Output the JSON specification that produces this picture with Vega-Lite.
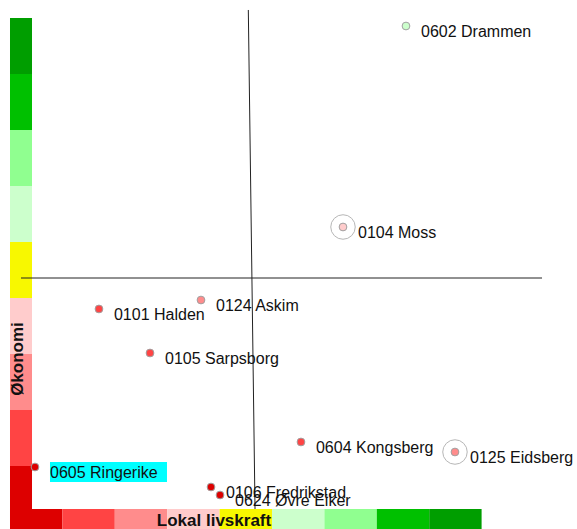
{
  "$schema": "https://vega.github.io/schema/vega-lite/v6.json",
  "width": 577,
  "height": 529,
  "autosize": {"type": "none"},
  "padding": 0,
  "background": "white",
  "view": {"stroke": null},
  "config": {"font": "Liberation Sans"},
  "datasets": {
    "bands": [
      {"band": 0, "lo": 0, "hi": 1},
      {"band": 1, "lo": 1, "hi": 2},
      {"band": 2, "lo": 2, "hi": 3},
      {"band": 3, "lo": 3, "hi": 4},
      {"band": 4, "lo": 4, "hi": 5},
      {"band": 5, "lo": 5, "hi": 6},
      {"band": 6, "lo": 6, "hi": 7},
      {"band": 7, "lo": 7, "hi": 8},
      {"band": 8, "lo": 8, "hi": 9}
    ],
    "lines": [
      {"x": 4.548, "y": 9.143, "x2": 4.676, "y2": 0.232},
      {"x": 0.21, "y": 4.357, "x2": 10.153, "y2": 4.357}
    ],
    "kommuner": [
      {"navn": "0602 Drammen", "livskraft": 7.557, "okonomi": 8.857, "band": 5, "ring": false, "markert": false},
      {"navn": "0104 Moss", "livskraft": 6.355, "okonomi": 5.268, "band": 3, "ring": true, "markert": false},
      {"navn": "0124 Askim", "livskraft": 3.645, "okonomi": 3.964, "band": 2, "ring": false, "markert": false},
      {"navn": "0101 Halden", "livskraft": 1.698, "okonomi": 3.804, "band": 1, "ring": false, "markert": false},
      {"navn": "0105 Sarpsborg", "livskraft": 2.672, "okonomi": 3.018, "band": 1, "ring": false, "markert": false},
      {"navn": "0604 Kongsberg", "livskraft": 5.553, "okonomi": 1.429, "band": 1, "ring": false, "markert": false},
      {"navn": "0125 Eidsberg", "livskraft": 8.492, "okonomi": 1.25, "band": 2, "ring": true, "markert": false},
      {"navn": "0605 Ringerike", "livskraft": 0.477, "okonomi": 0.982, "band": 0, "ring": false, "markert": true},
      {"navn": "0106 Fredrikstad", "livskraft": 3.836, "okonomi": 0.625, "band": 0, "ring": false, "markert": false},
      {"navn": "0624 Øvre Eiker", "livskraft": 4.008, "okonomi": 0.482, "band": 0, "ring": false, "markert": false}
    ],
    "titler": [
      {"tekst": "Lokal livskraft", "x": 3.893, "y": 0.02, "akse": "x"},
      {"tekst": "Økonomi", "x": 0.15, "y": 2.91, "akse": "y"}
    ]
  },
  "encoding": {
    "x": {"type": "quantitative", "scale": {"domain": [-0.1908, 10.8206], "nice": false, "zero": false}, "axis": null},
    "y": {"type": "quantitative", "scale": {"domain": [-0.125, 9.3214], "nice": false, "zero": false}, "axis": null}
  },
  "layer": [
    {
      "data": {"name": "bands"},
      "mark": {"type": "rect"},
      "encoding": {
        "x": {"field": "lo", "type": "quantitative"},
        "x2": {"field": "hi"},
        "y": {"datum": -0.2},
        "y2": {"datum": 0.232},
        "color": {"field": "band", "type": "ordinal", "legend": null,
          "scale": {"domain": [0,1,2,3,4,5,6,7,8], "range": ["#dd0000", "#ff4444", "#ff8c8c", "#ffcccc", "#f8f800", "#ccffcc", "#90ff90", "#00c000", "#009e00"]}}
      }
    },
    {
      "data": {"name": "bands"},
      "mark": {"type": "rect"},
      "encoding": {
        "y": {"field": "lo", "type": "quantitative"},
        "y2": {"field": "hi"},
        "x": {"datum": 0},
        "x2": {"datum": 0.42},
        "color": {"field": "band", "type": "ordinal", "legend": null}
      }
    },
    {
      "data": {"name": "lines"},
      "mark": {"type": "rule", "color": "#222222", "strokeWidth": 1},
      "encoding": {
        "x": {"field": "x", "type": "quantitative"},
        "y": {"field": "y", "type": "quantitative"},
        "x2": {"field": "x2"},
        "y2": {"field": "y2"}
      }
    },
    {
      "data": {"name": "kommuner"},
      "transform": [{"filter": "datum.ring"}],
      "mark": {"type": "point", "shape": "circle", "filled": false, "size": 600, "stroke": "#999999", "strokeWidth": 1},
      "encoding": {
        "x": {"field": "livskraft", "type": "quantitative"},
        "y": {"field": "okonomi", "type": "quantitative"}
      }
    },
    {
      "data": {"name": "kommuner"},
      "transform": [{"filter": "datum.markert"}],
      "mark": {"type": "rect", "color": "#00ffff", "width": 117, "height": 20, "xOffset": 73.5, "yOffset": 5},
      "encoding": {
        "x": {"field": "livskraft", "type": "quantitative"},
        "y": {"field": "okonomi", "type": "quantitative"}
      }
    },
    {
      "data": {"name": "kommuner"},
      "mark": {"type": "point", "shape": "circle", "filled": true, "size": 60, "stroke": "#a0a0a0", "strokeWidth": 1, "opacity": 1},
      "encoding": {
        "x": {"field": "livskraft", "type": "quantitative"},
        "y": {"field": "okonomi", "type": "quantitative"},
        "fill": {"field": "band", "type": "ordinal", "legend": null,
          "scale": {"domain": [0,1,2,3,4,5,6,7,8], "range": ["#dd0000", "#ff4444", "#ff8c8c", "#ffcccc", "#f8f800", "#ccffcc", "#90ff90", "#00c000", "#009e00"]}}
      }
    },
    {
      "data": {"name": "kommuner"},
      "mark": {"type": "text", "align": "left", "baseline": "middle", "dx": 15, "dy": 6, "fontSize": 16, "color": "#111111"},
      "encoding": {
        "x": {"field": "livskraft", "type": "quantitative"},
        "y": {"field": "okonomi", "type": "quantitative"},
        "text": {"field": "navn"}
      }
    },
    {
      "data": {"name": "titler"},
      "transform": [{"filter": "datum.akse == 'x'"}],
      "mark": {"type": "text", "align": "center", "baseline": "middle", "fontSize": 17, "fontWeight": "bold", "color": "#111111"},
      "encoding": {
        "x": {"field": "x", "type": "quantitative"},
        "y": {"field": "y", "type": "quantitative"},
        "text": {"field": "tekst"}
      }
    },
    {
      "data": {"name": "titler"},
      "transform": [{"filter": "datum.akse == 'y'"}],
      "mark": {"type": "text", "align": "center", "baseline": "middle", "angle": 270, "fontSize": 17, "fontWeight": "bold", "color": "#111111"},
      "encoding": {
        "x": {"field": "x", "type": "quantitative"},
        "y": {"field": "y", "type": "quantitative"},
        "text": {"field": "tekst"}
      }
    }
  ]
}
